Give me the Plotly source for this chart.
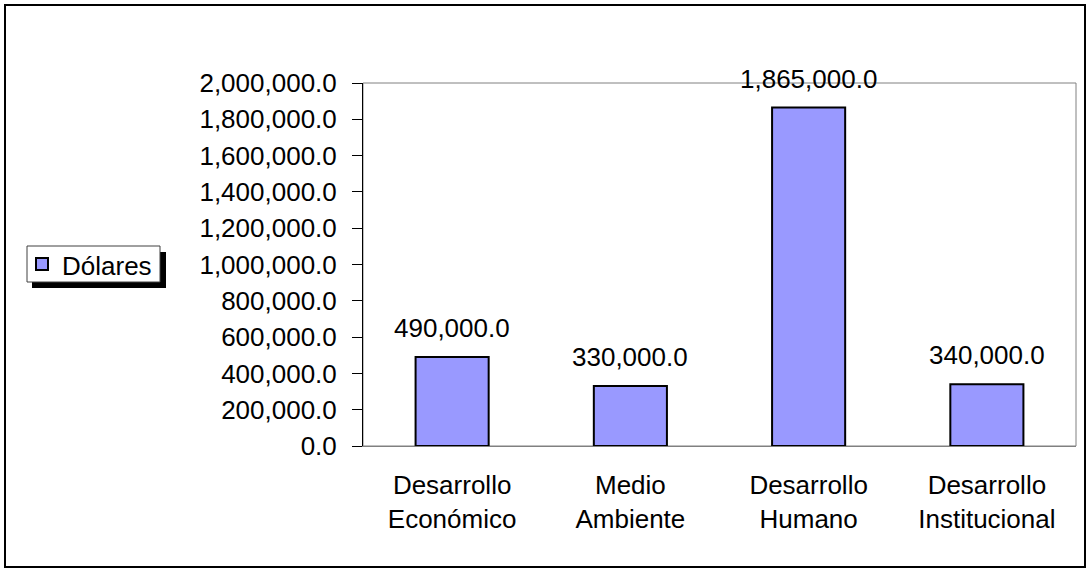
import plotly.graph_objects as go

categories = ["Desarrollo<br>Económico", "Medio<br>Ambiente", "Desarrollo<br>Humano", "Desarrollo<br>Institucional"]
values = [490000, 330000, 1865000, 340000]
series_name = "Dólares"
y_ticks = [0, 200000, 400000, 600000, 800000, 1000000, 1200000, 1400000, 1600000, 1800000, 2000000]

W, H = 1088, 571
L, R, T, B = 363, 12, 83, 125
PW, PH = W - L - R, H - T - B

def px(x):
    return (x - L) / PW

def py(y):
    return (H - B - y) / PH

FONT = "Liberation Sans, Arial, sans-serif"
FS = 26
BAR_COLOR = "#9999FF"

fig = go.Figure()
fig.add_trace(go.Bar(
    x=categories, y=values, name=series_name,
    marker=dict(color=BAR_COLOR, line=dict(color="black", width=2)),
    showlegend=False,
))

for c, v in zip(categories, values):
    fig.add_annotation(x=c, y=v, text=f"{v:,.1f}", showarrow=False,
                       yanchor="bottom", yshift=12, font=dict(size=FS, color="black", family=FONT))

# legend text (manual legend box)
fig.add_annotation(xref="paper", yref="paper", x=px(60), y=py(266), xanchor="left", yanchor="middle",
                   text=series_name, showarrow=False, font=dict(size=FS, color="black", family=FONT))

shapes = [
    # outer border
    dict(type="rect", xref="paper", yref="paper", x0=px(5), x1=px(1085), y0=py(567), y1=py(5),
         line=dict(color="black", width=2), layer="below"),
    # plot area border
    dict(type="rect", xref="paper", yref="paper", x0=0, x1=1, y0=0, y1=1,
         line=dict(color="#808080", width=1), layer="below"),
    # legend shadow
    dict(type="rect", xref="paper", yref="paper", x0=px(32), x1=px(166), y0=py(288), y1=py(252),
         line=dict(width=0), fillcolor="black", layer="above"),
    # legend box
    dict(type="rect", xref="paper", yref="paper", x0=px(27), x1=px(160), y0=py(282), y1=py(246),
         line=dict(color="#404040", width=1), fillcolor="white", layer="above"),
    # legend marker
    dict(type="rect", xref="paper", yref="paper", x0=px(36), x1=px(48), y0=py(270), y1=py(258),
         line=dict(color="black", width=2), fillcolor=BAR_COLOR, layer="above"),
]

fig.update_layout(
    width=W, height=H,
    margin=dict(l=L, r=R, t=T, b=B, pad=0),
    paper_bgcolor="white", plot_bgcolor="white",
    font=dict(family=FONT, size=FS, color="black"),
    bargap=0.59,
    shapes=shapes,
    showlegend=False,
    xaxis=dict(showline=True, linecolor="#808080", linewidth=1, ticks="", showgrid=False,
               ticklabelstandoff=16, tickfont=dict(size=FS)),
    yaxis=dict(range=[0, 2000000], tickvals=y_ticks, tickformat=",.1f",
               showline=True, linecolor="black", linewidth=1, ticks="outside", ticklen=10,
               tickcolor="black", showgrid=False, zeroline=False,
               ticklabelstandoff=10, tickfont=dict(size=FS)),
)

fig.write_html("out.html")
